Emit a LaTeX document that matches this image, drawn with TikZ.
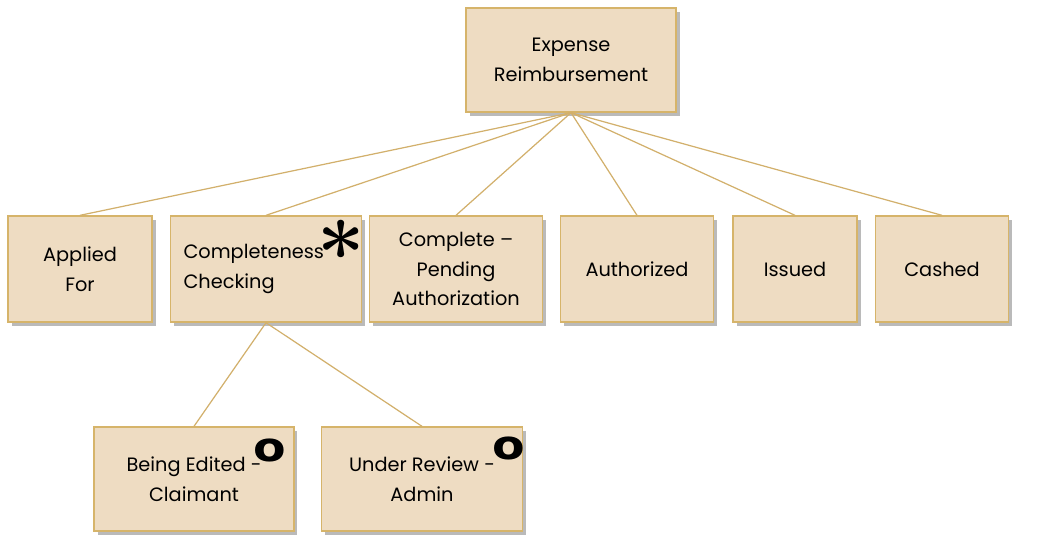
\documentclass[tikz,border=0pt]{standalone}
\usepackage{fontspec}
\setmainfont{Poppins}
\newfontfamily\ringfont{DejaVu Sans}
\newfontfamily\starfont{Latin Modern Roman}
\usepackage{tikz}
\usetikzlibrary{shadows}

\definecolor{boxfill}{HTML}{EEDCC2}
\definecolor{boxline}{HTML}{D6B46A}
\definecolor{linkgold}{HTML}{D2B06C}

\begin{document}
\begin{tikzpicture}[
    x=0.02cm, y=-0.02cm,
    state/.style={rectangle, draw=boxline, fill=boxfill, line width=0.8pt, minimum height=2.12cm, align=center, font=\fontsize{11}{17}\selectfont,
        drop shadow={shadow xshift=2pt, shadow yshift=-2.5pt, opacity=0.45, fill=black!60}},
    link/.style={draw=linkgold, line width=0.7pt},
    note/.style={inner sep=0pt, yscale=0.85, font=\fontsize{27}{27}\selectfont\ringfont\bfseries}
]
\useasboundingbox (0,0) rectangle (1037,539);

\node[state, minimum width=4.2cm, minimum height=2.08cm] (top) at (571,60) {Expense\\Reimbursement};

\node[state, minimum width=2.88cm] (applied) at (80,269) {Applied\\For};
\node[state, minimum width=3.82cm, text width=3.3cm, inner xsep=0.26cm, align=left] (checking) at (266,269) {Completeness\\Checking};
\node[state, minimum width=3.46cm] (pending) at (456,269) {Complete --\\Pending\\Authorization};
\node[state, minimum width=3.06cm] (authorized) at (637,269) {Authorized};
\node[state, minimum width=2.48cm] (issued) at (795,269) {Issued};
\node[state, minimum width=2.66cm] (cashed) at (942,269) {Cashed};

\node[state, minimum width=4.0cm, minimum height=2.08cm] (edited) at (194,479) {Being Edited -\\Claimant};
\node[state, minimum width=4.02cm, minimum height=2.08cm] (review) at (422,479) {Under Review -\\Admin};

\foreach \leaf in {applied, checking, pending, authorized, issued, cashed}
    \draw[link] (top.south) -- (\leaf.north);
\draw[link] (checking.south) -- (edited.north);
\draw[link] (checking.south) -- (review.north);

% markers
\node[inner sep=0pt, font=\fontsize{48}{48}\selectfont\starfont\bfseries] (star) at (341,252) {*};
\node[note] (ringa) at (270,450) {o};
\node[note] (ringb) at (509,448) {o};

\end{tikzpicture}
\end{document}
